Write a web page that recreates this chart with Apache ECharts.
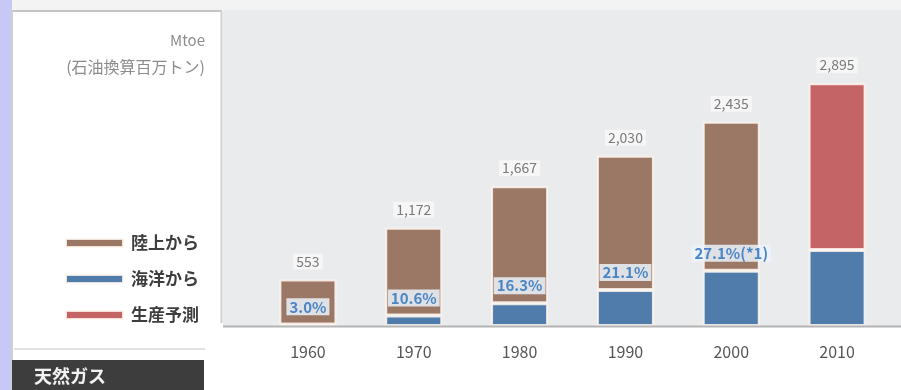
<!DOCTYPE html>
<html>
<head>
<meta charset="utf-8">
<script src="https://cdn.jsdelivr.net/npm/echarts@6/dist/echarts.min.js"></script>
<style>
  html, body { margin: 0; padding: 0; background: #ffffff; }
  #chart { width: 901px; height: 390px; }
</style>
</head>
<body>
<div id="chart"></div>
<script>
// Natural gas production by source (Mtoe)
const years = ['1960', '1970', '1980', '1990', '2000', '2010'];
const totals = [553, 1172, 1667, 2030, 2435, 2895];
// offshore share of each year's total, in percent (2010 is a forecast, no share given)
const offshorePct = [3.0, 10.6, 16.3, 21.1, 27.1, null];
const offshore2010 = 905;
const pctNotes = ['', '', '', '', '(*1)', ''];
const seriesNames = ['陸上から', '海洋から', '生産予測'];

const offshore = totals.map((t, i) => offshorePct[i] != null ? t * offshorePct[i] / 100 : offshore2010);
const onshore = totals.map((t, i) => offshorePct[i] != null ? t - offshore[i] : null);
const forecast = totals.map((t, i) => offshorePct[i] != null ? null : t - offshore[i]);

const fmt = v => v.toLocaleString('en-US');
const FONT = '"Noto Sans CJK JP", "Noto Sans", sans-serif';

const totalLabel = {
  show: true,
  position: 'top',
  distance: 10,
  color: '#7a7a7a',
  fontSize: 14,
  fontFamily: FONT,
  backgroundColor: 'rgba(255,255,255,0.55)',
  padding: [1, 3],
  formatter: p => fmt(totals[p.dataIndex])
};

const barBorder = { borderColor: 'rgba(255,246,238,0.85)', borderWidth: 2 };

// offshore bars carry their share label only where a share is stated
const offshoreData = offshore.map((v, i) => ({
  value: v,
  label: { show: offshorePct[i] != null }
}));

const chart = echarts.init(document.getElementById('chart'), null, { renderer: 'canvas' });
chart.setOption({
  animation: false,
  backgroundColor: '#ffffff',
  textStyle: { fontFamily: FONT },
  graphic: [
    // page frame pieces
    { type: 'rect', z: -10, shape: { x: 0, y: 0, width: 12, height: 390 }, style: { fill: '#c8c8f6' } },
    { type: 'rect', z: -10, shape: { x: 12, y: 0, width: 889, height: 10 }, style: { fill: '#f3f3f3' } },
    { type: 'rect', z: -10, shape: { x: 223, y: 10, width: 678, height: 316 }, style: { fill: '#eaebed' } },
    { type: 'line', z: -5, shape: { x1: 12, y1: 11, x2: 222, y2: 11 }, style: { stroke: '#c4c4c4', lineWidth: 2 } },
    { type: 'line', z: -5, shape: { x1: 12, y1: 10, x2: 12, y2: 390 }, style: { stroke: '#d0d0d0', lineWidth: 2 } },
    { type: 'line', z: -5, shape: { x1: 221.5, y1: 11, x2: 221.5, y2: 323 }, style: { stroke: '#cfcfcf', lineWidth: 2 } },
    { type: 'line', z: -5, shape: { x1: 14, y1: 349, x2: 205, y2: 349 }, style: { stroke: '#e2e2e2', lineWidth: 2 } },
    { type: 'line', z: 5, shape: { x1: 223, y1: 326.5, x2: 901, y2: 326.5 }, style: { stroke: '#b4b4b4', lineWidth: 2 } },
    // unit caption
    { type: 'text', style: { x: 205, y: 40, text: 'Mtoe', textAlign: 'right', textVerticalAlign: 'middle', fill: '#8c8c8c', font: '15px ' + FONT } },
    { type: 'text', style: { x: 205, y: 67, text: '(石油換算百万トン)', textAlign: 'right', textVerticalAlign: 'middle', fill: '#8c8c8c', font: '16px ' + FONT } },
    // section tab
    { type: 'rect', z: -5, shape: { x: 12, y: 360, width: 192, height: 30 }, style: { fill: '#3d3d3d' } },
    { type: 'text', style: { x: 34, y: 376, text: '天然ガス', textAlign: 'left', textVerticalAlign: 'middle', fill: '#f2f2f2', font: 'bold 18px ' + FONT } }
  ],
  legend: {
    orient: 'vertical',
    left: 60,
    top: 229,
    itemWidth: 57,
    itemHeight: 8,
    itemGap: 18,
    icon: 'rect',
    data: seriesNames,
    textStyle: { color: '#3e3e3e', fontSize: 17, fontWeight: 'bold', lineHeight: 18, fontFamily: FONT, padding: [0, 0, 0, 3] }
  },
  grid: { left: 255, right: 11, top: 24, bottom: 64 },
  xAxis: {
    type: 'category',
    data: years,
    axisLine: { show: false },
    axisTick: { show: false },
    axisLabel: { color: '#555555', fontSize: 16, margin: 18, fontFamily: FONT }
  },
  yAxis: {
    type: 'value',
    min: 0,
    max: 3600,
    show: false,
    splitLine: { show: false }
  },
  series: [
    {
      name: seriesNames[1],
      type: 'bar',
      stack: 'gas',
      barWidth: 57,
      data: offshoreData,
      itemStyle: Object.assign({ color: '#4f7cab' }, barBorder),
      label: {
        show: true,
        position: 'top',
        distance: 9,
        color: '#4a86c6',
        fontSize: 15,
        fontWeight: 'bold',
        fontFamily: FONT,
        backgroundColor: 'rgba(236,243,250,0.85)',
        padding: [1, 3],
        formatter: p => offshorePct[p.dataIndex] != null ? offshorePct[p.dataIndex].toFixed(1) + '%' + pctNotes[p.dataIndex] : ''
      },
      z: 3
    },
    {
      name: seriesNames[0],
      type: 'bar',
      stack: 'gas',
      barWidth: 57,
      data: onshore,
      itemStyle: Object.assign({ color: '#9b7866' }, barBorder),
      label: totalLabel,
      z: 2
    },
    {
      name: seriesNames[2],
      type: 'bar',
      stack: 'gas',
      barWidth: 57,
      data: forecast,
      itemStyle: Object.assign({ color: '#c56467' }, barBorder),
      label: totalLabel,
      z: 2
    }
  ]
});
</script>
</body>
</html>
